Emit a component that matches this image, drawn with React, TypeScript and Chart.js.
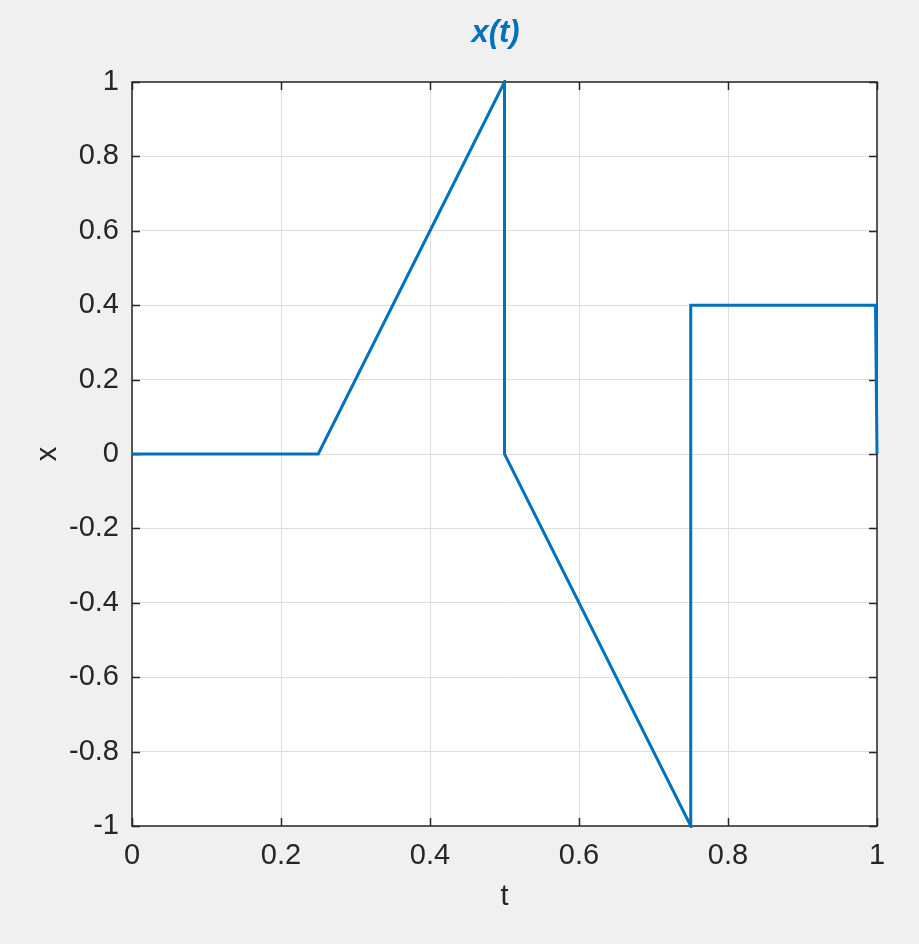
import React, { useEffect, useRef } from "react";
import { Chart, registerables } from "chart.js";

Chart.register(...registerables);

const tValues = [0, 0.25, 0.5, 0.5, 0.75, 0.75, 0.998, 1];
const xValues = [0, 0, 1, 0, -1, 0.4, 0.4, 0];
const xTicks = [0, 0.2, 0.4, 0.6, 0.8, 1];
const xTickLabels = ["0", "0.2", "0.4", "0.6", "0.8", "1"];
const yTicks = [-1, -0.8, -0.6, -0.4, -0.2, 0, 0.2, 0.4, 0.6, 0.8, 1];
const yTickLabels = ["-1", "-0.8", "-0.6", "-0.4", "-0.2", "0", "0.2", "0.4", "0.6", "0.8", "1"];
const titleText = "x(t)";
const xLabel = "t";
const yLabel = "x";

const FONT = "'Liberation Sans', Arial, sans-serif";
const TEXT = "#262626";
const LINE = "#0072BD";

const matlabPlugin = {
  id: "matlabAxes",
  beforeDatasetsDraw(chart: any) {
    const { ctx, chartArea: a, scales } = chart;
    ctx.save();
    ctx.strokeStyle = TEXT;
    ctx.lineWidth = 1.5;
    const tl = 8;
    ctx.beginPath();
    xTicks.forEach((v) => {
      const px = Math.round(scales.x.getPixelForValue(v)) + 0.5;
      ctx.moveTo(px, a.bottom);
      ctx.lineTo(px, a.bottom - tl);
      ctx.moveTo(px, a.top);
      ctx.lineTo(px, a.top + tl);
    });
    yTicks.forEach((v) => {
      const py = Math.round(scales.y.getPixelForValue(v)) + 0.5;
      ctx.moveTo(a.left, py);
      ctx.lineTo(a.left + tl, py);
      ctx.moveTo(a.right, py);
      ctx.lineTo(a.right - tl, py);
    });
    ctx.stroke();
    ctx.strokeRect(a.left, a.top, a.right - a.left, a.bottom - a.top);
    ctx.restore();
  },
  afterDraw(chart: any) {
    const { ctx, chartArea: a } = chart;
    ctx.save();
    ctx.fillStyle = LINE;
    ctx.font = `italic bold 31px ${FONT}`;
    ctx.textAlign = "center";
    ctx.textBaseline = "middle";
    ctx.fillText(titleText, (a.left + a.right) / 2 - 9, 33);
    ctx.fillStyle = TEXT;
    ctx.font = `29px ${FONT}`;
    ctx.fillText(xLabel, (a.left + a.right) / 2, 897);
    ctx.translate(48, (a.top + a.bottom) / 2);
    ctx.rotate(-Math.PI / 2);
    ctx.fillText(yLabel, 0, 0);
    ctx.restore();
  },
};

const bgPlugin = {
  id: "bg",
  beforeDraw(chart: any) {
    const { ctx, width, height, chartArea: a } = chart;
    ctx.save();
    ctx.fillStyle = "#f0f0f0";
    ctx.fillRect(0, 0, width, height);
    ctx.fillStyle = "#ffffff";
    ctx.fillRect(a.left, a.top, a.right - a.left, a.bottom - a.top);
    ctx.restore();
  },
};

export default function App() {
  const ref = useRef<HTMLCanvasElement>(null);
  useEffect(() => {
    document.body.style.margin = "0";
    const chart = new Chart(ref.current as HTMLCanvasElement, {
      type: "line",
      data: {
        datasets: [
          {
            data: tValues.map((t, i) => ({ x: t, y: xValues[i] })),
            borderColor: LINE,
            borderWidth: 3,
            pointRadius: 0,
            tension: 0,
            fill: false,
            clip: 2,
          } as any,
        ],
      },
      options: {
        animation: false,
        responsive: false,
        maintainAspectRatio: false,
        layout: { padding: { top: 82, right: 42, left: 0, bottom: 0 } },
        plugins: { legend: { display: false }, tooltip: { enabled: false }, title: { display: false } },
        scales: {
          x: {
            type: "linear",
            min: 0,
            max: 1,
            afterFit: (s: any) => { s.height = 118; },
            afterBuildTicks: (s: any) => { s.ticks = xTicks.map((v) => ({ value: v })); },
            ticks: {
              padding: 13,
              color: TEXT,
              font: { family: FONT, size: 29 },
              maxRotation: 0,
              autoSkip: false,
              callback: (v: any) => xTickLabels[xTicks.findIndex((t) => Math.abs(t - v) < 1e-9)] ?? "",
            },
            grid: { color: "#dedede", lineWidth: 1, drawTicks: false },
            border: { display: false },
          },
          y: {
            type: "linear",
            min: -1,
            max: 1,
            afterFit: (s: any) => { s.width = 132; },
            afterBuildTicks: (s: any) => { s.ticks = yTicks.map((v) => ({ value: v })); },
            ticks: {
              padding: 13,
              color: TEXT,
              font: { family: FONT, size: 29 },
              autoSkip: false,
              callback: (v: any) => yTickLabels[yTicks.findIndex((t) => Math.abs(t - v) < 1e-9)] ?? "",
            },
            grid: { color: "#dedede", lineWidth: 1, drawTicks: false },
            border: { display: false },
          },
        },
      },
      plugins: [bgPlugin, matlabPlugin],
    });
    return () => chart.destroy();
  }, []);
  return <canvas ref={ref} width={919} height={944} style={{ display: "block" }} />;
}
